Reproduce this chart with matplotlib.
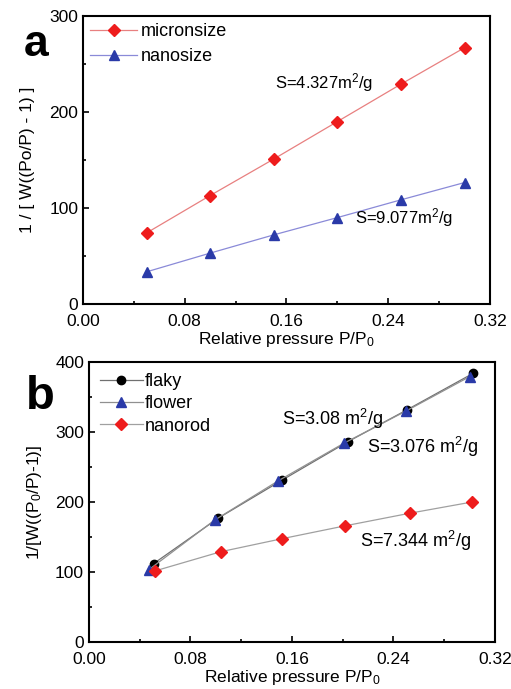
import matplotlib
matplotlib.use("Agg")
import matplotlib.pyplot as plt
from matplotlib.ticker import MultipleLocator

plt.rcParams['font.family'] = ['Liberation Sans', 'DejaVu Sans']
plt.rcParams['mathtext.fontset'] = 'custom'
plt.rcParams['mathtext.rm'] = 'Liberation Sans'
plt.rcParams['mathtext.it'] = 'Liberation Sans'

# panel a
x_a = [0.05, 0.10, 0.15, 0.20, 0.25, 0.30]
micronsize = [74, 113, 151, 190, 229, 267]
nanosize = [33.5, 53, 72, 90, 108.5, 126.5]

# panel b
x_flaky = [0.051, 0.102, 0.152, 0.204, 0.251, 0.303]
flaky = [112, 177, 231, 286, 332, 384]
x_flower = [0.047, 0.099, 0.149, 0.201, 0.250, 0.300]
flower = [103, 174, 230, 284, 330, 379]
x_nanorod = [0.052, 0.104, 0.152, 0.202, 0.253, 0.302]
nanorod = [101.5, 129, 147.5, 166, 184, 200]

fig = plt.figure(figsize=(5.11, 6.89), dpi=100)
ax1 = fig.add_axes([0.1624, 0.5588, 0.7965, 0.418])
ax2 = fig.add_axes([0.174, 0.0682, 0.7945, 0.4064])

ax1.plot(x_a, micronsize, color='#e88080', lw=0.9, marker='D', ms=6,
         mfc='#ee1c1c', mec='#ee1c1c', label='micronsize')
ax1.plot(x_a, nanosize, color='#8a8ad8', lw=0.9, marker='^', ms=7,
         mfc='#2a3aa8', mec='#2a3aa8', label='nanosize')
ax1.set_ylim(0, 300)
ax1.yaxis.set_major_locator(MultipleLocator(100))
ax1.yaxis.set_minor_locator(MultipleLocator(50))
ax1.set_ylabel('1 / [ W((Po/P) - 1) ]', fontsize=12.5, labelpad=10)
ax1.text(0.151, 231, 'S=4.327m$^2$/g', fontsize=12, va='center')
ax1.text(0.214, 90, 'S=9.077m$^2$/g', fontsize=12, va='center')
ax1.legend(loc='upper left', frameon=False, fontsize=13, handlelength=2.6,
           borderaxespad=0.1, borderpad=0.3, labelspacing=0.45,
           handletextpad=0.2)
ax1.text(-0.145, 0.9, 'a', transform=ax1.transAxes, fontsize=32,
         fontweight='bold', va='center')

ax2.plot(x_flaky, flaky, color='#707070', lw=0.9, marker='o', ms=6,
         mfc='black', mec='black', label='flaky')
ax2.plot(x_flower, flower, color='#909090', lw=0.9, marker='^', ms=7,
         mfc='#2a3aa8', mec='#2a3aa8', label='flower')
ax2.plot(x_nanorod, nanorod, color='#a0a0a0', lw=0.9, marker='D', ms=6,
         mfc='#ee1c1c', mec='#ee1c1c', label='nanorod')
ax2.set_ylim(0, 400)
ax2.yaxis.set_major_locator(MultipleLocator(100))
ax2.yaxis.set_minor_locator(MultipleLocator(50))
ax2.set_ylabel('1/[W((P$_0$/P)-1)]', fontsize=12.5, labelpad=8)
ax2.text(0.1525, 319, 'S=3.08 m$^2$/g', fontsize=13, va='center')
ax2.text(0.219, 278, 'S=3.076 m$^2$/g', fontsize=13, va='center')
ax2.text(0.2135, 145, 'S=7.344 m$^2$/g', fontsize=13, va='center')
ax2.legend(loc='upper left', frameon=False, fontsize=13, handlelength=2.4,
           borderaxespad=0.3, borderpad=0.3, labelspacing=0.3,
           handletextpad=0.1)
ax2.text(-0.155, 0.875, 'b', transform=ax2.transAxes, fontsize=34,
         fontweight='bold', va='center')

for ax in (ax1, ax2):
    ax.set_xlim(0, 0.32)
    ax.xaxis.set_major_locator(MultipleLocator(0.08))
    ax.xaxis.set_minor_locator(MultipleLocator(0.04))
    ax.xaxis.set_major_formatter(plt.FormatStrFormatter('%.2f'))
    ax.set_xlabel('Relative pressure P/P$_0$', fontsize=12.5, labelpad=1)
    ax.tick_params(which='both', direction='in', top=False, right=False,
                   labelsize=12.5, width=1.2)
    ax.tick_params(which='major', length=4)
    ax.tick_params(which='minor', length=2.5)
    ax.tick_params(axis='x', which='major', pad=7)
    for s in ax.spines.values():
        s.set_linewidth(1.5)

fig.savefig('out.png', dpi=100)
